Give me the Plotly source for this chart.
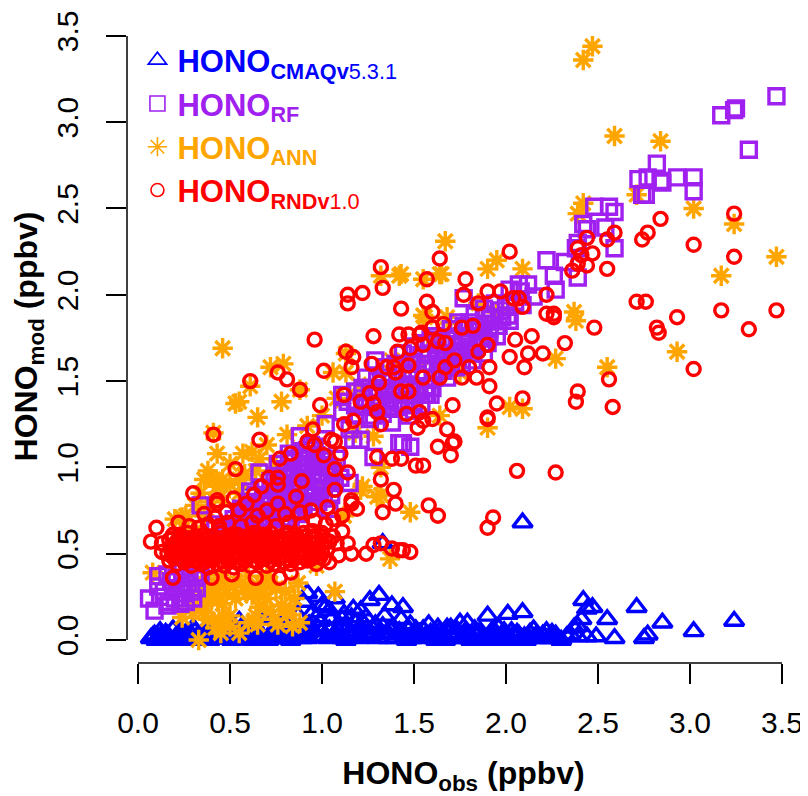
import plotly.graph_objects as go

CMAQ = [(0.07,0.01),(0.09,0.03),(0.10,0.00),(0.12,0.05),(0.14,0.01),(0.16,0.03),(0.18,0.00),(0.19,0.06),(0.21,0.02),(0.24,0.01),
(0.26,0.04),(0.28,0.00),(0.30,0.07),(0.32,0.02),(0.35,0.01),(0.37,0.05),(0.39,0.00),(0.41,0.03),(0.44,0.01),(0.46,0.08),
(0.48,0.02),(0.51,0.00),(0.53,0.04),(0.55,0.11),(0.57,0.01),(0.60,0.03),(0.62,0.00),(0.64,0.06),(0.67,0.02),(0.69,0.12),
(0.71,0.00),(0.74,0.03),(0.76,0.01),(0.78,0.07),(0.81,0.02),(0.83,0.00),(0.85,0.05),(0.87,0.14),(0.89,0.01),(0.90,0.22),
(0.92,0.27),(0.93,0.09),(0.95,0.16),(0.96,0.02),(0.98,0.25),(0.99,0.11),(1.00,0.05),(1.02,0.19),(1.03,0.01),(1.05,0.12),
(1.07,0.24),(1.08,0.03),(1.10,0.08),(1.12,0.15),(1.13,0.00),(1.15,0.04),(1.17,0.18),(1.18,0.10),(1.20,0.01),(1.22,0.06),
(1.24,0.13),(1.26,0.23),(1.27,0.02),(1.29,0.09),(1.31,0.26),(1.32,0.04),(1.33,0.56),(1.34,0.14),(1.36,0.01),(1.38,0.20),
(1.39,0.07),(1.41,0.03),(1.43,0.12),(1.44,0.19),(1.46,0.00),(1.48,0.09),(1.50,0.04),(1.52,0.02),(1.55,0.06),(1.57,0.01),
(1.58,0.09),(1.60,0.03),(1.62,0.00),(1.64,0.05),(1.66,0.02),(1.68,0.07),(1.70,0.07),(1.72,0.01),(1.74,0.04),(1.75,0.10),
(1.77,0.02),(1.79,0.10),(1.81,0.00),(1.83,0.06),(1.85,0.03),(1.87,0.01),(1.90,0.14),(1.92,0.04),(1.94,0.00),(1.96,0.07),
(1.98,0.02),(2.01,0.15),(2.03,0.05),(2.05,0.01),(2.07,0.03),(2.09,0.16),(2.09,0.68),(2.11,0.00),(2.12,0.02),(2.15,0.06),
(2.17,0.01),(2.20,0.03),(2.22,0.05),(2.24,0.01),(2.27,0.03),(2.30,0.00),(2.35,0.03),(2.37,0.07),(2.39,0.02),(2.39,0.08),
(2.41,0.12),(2.42,0.23),(2.44,0.18),(2.44,0.02),(2.47,0.19),(2.49,0.02),(2.55,0.12),(2.59,0.01),(2.71,0.19),(2.75,0.01),
(2.77,0.03),(2.85,0.10),(3.02,0.05),(3.24,0.11),(0.60,0.90),
(0.08,0.02),(0.11,0.01),(0.15,0.04),(0.20,0.01),(0.23,0.05),(0.27,0.02),(0.31,0.05),(0.34,0.03),(0.38,0.08),(0.42,0.06),
(0.45,0.03),(0.49,0.06),(0.52,0.02),(0.56,0.07),(0.59,0.05),(0.63,0.09),(0.66,0.04),(0.70,0.07),(0.73,0.05),(0.77,0.09),
(0.80,0.05),(0.84,0.09),(0.88,0.06),(0.91,0.04),(0.94,0.06),(0.97,0.08),(1.01,0.02),(1.04,0.06),(1.06,0.02),(1.09,0.05),
(1.11,0.01),(1.14,0.07),(1.16,0.02),(1.19,0.05),(1.21,0.02),(1.23,0.09),(1.25,0.04),(1.28,0.06),(1.30,0.01),(1.33,0.08),
(1.35,0.04),(1.37,0.06),(1.40,0.01),(1.42,0.05),(1.45,0.03),(1.47,0.06),(1.49,0.01),(1.51,0.06),(1.53,0.04),(1.56,0.02),
(1.59,0.04),(1.61,0.01),(1.63,0.07),(1.65,0.03),(1.67,0.00),(1.69,0.04),(1.71,0.03),(1.73,0.06),(1.76,0.01),(1.78,0.05),
(1.80,0.03),(1.82,0.01),(1.84,0.02),(1.86,0.05),(1.88,0.00),(1.91,0.02),(1.93,0.06),(1.95,0.02),(1.97,0.01),(1.99,0.05),
(2.02,0.00),(2.04,0.03),(2.06,0.04),(2.08,0.01),(2.10,0.02),(2.13,0.04),(2.16,0.02),(2.19,0.01),(2.21,0.02),(2.25,0.04),
(2.28,0.01),(2.33,0.02),(0.13,0.03),(0.17,0.01),(0.22,0.03),(0.25,0.02),(0.29,0.03),(0.33,0.00),(0.36,0.03),(0.40,0.01),
(0.43,0.04),(0.47,0.01),(0.50,0.03),(0.54,0.01),(0.58,0.03),(0.61,0.01),(0.65,0.02),(0.68,0.00),(0.72,0.02),(0.75,0.01),
(0.79,0.03),(0.82,0.01),(0.86,0.02),(0.92,0.01),(0.97,0.13),(1.00,0.20),(1.04,0.17),(1.11,0.12),(1.16,0.13),(1.21,0.17)]

ANN = [(2.47,3.44),(2.42,3.36),(2.59,2.92),(2.84,2.89),(2.42,2.53),(2.39,2.47),(2.71,2.58),(3.02,2.50),(3.24,2.41),(3.47,2.22),
(3.17,2.11),(1.67,2.31),(1.64,2.12),(1.43,2.12),(1.55,2.09),(1.95,2.20),(1.90,2.15),(2.09,2.15),(2.37,1.90),(1.56,1.87),
(1.68,1.87),(2.93,1.67),(2.55,1.58),(2.27,1.63),(2.38,1.85),(2.02,1.35),(2.09,1.34),(1.90,1.23),(1.64,1.30),(1.48,0.74),
(0.46,1.69),(0.72,1.58),(0.79,1.60),(0.61,1.47),(0.53,1.37),(0.55,1.38),(0.78,1.38),(0.88,1.45),(0.65,1.29),(0.41,1.20),
(0.81,1.19),(0.43,1.08),(0.57,1.08),(0.62,1.09),(0.66,1.05),(0.46,0.93),(0.36,0.93),(1.32,2.11),(1.42,2.11),(1.65,2.12),
(1.55,1.88),(1.13,1.66),(1.06,1.55),(1.13,1.55),(1.32,1.00),(1.22,0.89),(1.32,0.84),(0.33,0.00),(0.45,0.04),(0.24,0.13),
(0.55,0.04),(0.65,0.09),(0.74,0.12),(0.84,0.08),(0.88,0.10),(0.78,0.20),(0.66,0.19),(0.43,0.27),(0.65,0.31),(0.87,0.33),
(1.07,0.28),(0.08,0.39),(0.97,0.43),(0.24,0.71),(0.43,0.89),(1.21,0.87),(1.30,0.83),(1.37,0.47),(0.38,0.12),(0.36,0.20),
(0.46,0.21),(0.50,0.14),(0.53,0.24),(0.60,0.10),(0.62,0.26),(0.70,0.24),(0.72,0.17),(0.76,0.09),
(0.81,0.15),(0.39,0.30),(0.33,0.22),(0.30,0.16),(0.47,0.33),(0.56,0.33),(0.75,0.30),(0.50,0.08),(0.42,0.07),(0.30,0.62),
(0.36,0.72),(0.50,1.02),(0.58,0.96),(0.70,1.13),(0.75,1.00),(0.92,1.24),(1.00,1.30),(1.08,1.40),(1.20,1.48),(1.28,1.35),
(1.18,1.20),(1.28,1.18),(1.38,1.62),(1.52,1.60),(1.62,1.72),(1.75,1.55),(1.85,1.95),(1.95,1.90),(1.12,0.72),(0.98,0.88),
(0.35,0.16),(0.40,0.23),(0.44,0.12),(0.48,0.27),(0.61,0.30),(0.64,0.14),(0.68,0.27),
(0.83,0.18),(0.37,0.25),(0.42,0.33),(0.45,0.10),(0.52,0.31),(0.59,0.27),(0.67,0.33),
(0.72,0.33),(0.80,0.28),(0.85,0.24),(0.34,0.28),
(0.28,0.25),(0.31,0.33),(0.37,0.36),(0.44,0.38),(0.60,0.37),(0.70,0.37),(0.26,0.72),(0.31,0.78),(0.34,0.85),(0.39,0.80),
(0.45,0.83),(0.38,0.98),(0.41,0.93),(0.50,0.90),(0.55,0.85),(0.28,0.55),(0.23,0.62),(0.20,0.70),(0.55,0.93),(0.64,0.98)]

RF = [(3.47,3.15),(3.17,3.04),(3.24,3.07),(3.25,3.08),(3.32,2.84),(2.82,2.76),(2.72,2.67),(2.77,2.68),(2.84,2.66),(2.85,2.65),
(2.93,2.68),(3.02,2.68),(3.02,2.60),(2.74,2.58),(2.76,2.58),(2.48,2.51),(2.56,2.51),(2.59,2.48),(2.42,2.41),(2.44,2.38),
(2.54,2.39),(2.59,2.27),(2.38,2.27),(2.39,2.30),(2.22,2.20),(2.32,2.19),(2.26,2.11),(2.39,2.10),(2.27,2.03),(2.07,2.06),
(2.12,2.06),(2.02,2.03),(2.08,2.02),(2.15,1.99),(2.09,1.94),(1.77,1.98),(1.97,1.91),(2.01,1.88),(1.89,1.88),(1.74,1.84),
(2.02,1.85),(1.91,1.76),(1.87,1.72),(1.48,1.12),(1.44,1.14),(1.57,1.42),(1.43,1.37),(1.29,1.62),(1.24,1.52),(1.11,1.42),
(1.02,1.25),(0.88,1.18),(1.17,1.16),(1.42,1.14),(1.28,1.06),(1.56,1.42),(1.41,1.35),(1.11,1.32),(1.15,1.22),(1.21,1.16),
(0.66,0.97),(0.61,0.86),(0.34,0.78),(0.42,0.67),(0.11,0.37),(0.06,0.24),(0.09,0.17),(0.11,0.31),(0.12,0.25),(0.23,0.21),
(1.15,0.91),(0.17,0.22),(0.19,0.30),(0.21,0.36),(0.25,0.27),(0.27,0.33),(0.30,0.24),(0.32,0.30),(0.34,0.38),(0.16,0.38),
(0.14,0.28),(0.16,0.20),(0.20,0.24),(0.23,0.30),(0.26,0.22),(0.28,0.38),(0.31,0.36),(0.24,0.40),(0.18,0.34),(0.29,0.28),
(0.37,0.44),(0.40,0.50),(0.44,0.58),(0.48,0.64),(0.52,0.70),(0.56,0.76),(0.60,0.80),(0.64,0.84),(0.68,0.88),(0.72,0.92),
(0.76,0.95),(0.80,0.99),(0.84,1.03),(0.88,1.06),(0.92,1.10),(0.96,1.04),(1.00,1.10),(1.04,1.00),(1.08,1.05),(1.10,0.94),
(0.50,0.60),(0.55,0.66),(0.60,0.68),(0.65,0.74),(0.70,0.78),(0.75,0.82),(0.80,0.86),(0.85,0.90),(0.90,0.94),(0.95,0.97),
(1.00,0.92),(1.05,0.88),(0.62,0.62),(0.68,0.68),(0.74,0.72),(0.80,0.76),(0.86,0.80),(0.92,0.84),(0.98,0.80),(1.04,0.76),
(0.72,0.84),(0.78,0.90),(0.84,0.96),(0.90,1.00),(0.96,1.12),(0.76,1.02),(0.82,1.08),
(0.46,0.61),(0.53,0.63),(0.58,0.61),(0.66,0.60),(0.47,0.66),(0.51,0.65),(0.57,0.69),(0.63,0.67),(0.71,0.66),(0.75,0.64),
(0.55,0.71),(0.61,0.73),(0.67,0.71),(0.72,0.70),(0.78,0.70),(0.83,0.71),(0.58,0.75),(0.63,0.77),(0.69,0.75),(0.78,0.74),
(0.84,0.75),(0.88,0.73),(0.64,0.79),(0.71,0.80),(0.77,0.78),(0.83,0.79),(0.90,0.78),(0.94,0.77),(0.69,0.83),(0.76,0.86),
(0.82,0.83),(0.88,0.85),(0.95,0.83),(1.01,0.82),(0.74,0.88),(0.80,0.91),(0.87,0.89),(0.93,0.89),(0.99,0.87),(1.05,0.84),
(0.79,0.94),(0.85,0.94),(0.91,0.97),(0.97,0.93),(1.03,0.95),(1.07,0.91),(0.81,0.98),(0.87,1.00),(0.93,1.02),(0.99,1.00),
(1.06,0.98),(0.85,1.05),(0.91,1.06),(0.97,1.07),(1.02,1.04),(0.94,1.13),
(1.14,1.38),(1.18,1.44),(1.22,1.40),(1.26,1.46),(1.30,1.50),(1.34,1.44),(1.38,1.50),(1.30,1.36),(1.36,1.34),(1.26,1.28),
(1.20,1.30),(1.34,1.58),(1.40,1.60),(1.44,1.54),(1.48,1.48),(1.52,1.54),(1.56,1.60),(1.46,1.42),(1.50,1.38),(1.38,1.26),
(1.44,1.66),(1.50,1.70),(1.56,1.72),(1.62,1.68),(1.68,1.74),(1.74,1.70),(1.80,1.76),(1.86,1.82),(1.92,1.86),(1.96,1.82),
(1.60,1.60),(1.66,1.62),(1.72,1.64),(1.78,1.68),(1.84,1.70),(1.90,1.72),(1.62,1.76),(1.70,1.80),(1.80,1.84),(1.56,1.52),
(1.64,1.56),(1.70,1.58),(1.76,1.60),(1.82,1.62),(1.47,1.30),(1.54,1.36),(1.60,1.46),
(1.28,1.30),(1.33,1.31),(1.31,1.41),(1.35,1.39),(1.40,1.42),(1.43,1.47),(1.36,1.46),(1.33,1.52),(1.41,1.54),(1.47,1.55),
(1.51,1.47),(1.45,1.36),(1.39,1.34),(1.53,1.44),(1.57,1.47),(1.61,1.52),(1.66,1.56),(1.49,1.60),(1.54,1.65),(1.58,1.66),
(1.63,1.62),(1.68,1.66),(1.73,1.58),(1.59,1.74),(1.65,1.72),(1.71,1.74),(1.76,1.76),(1.79,1.72),(1.75,1.66),(1.81,1.66),
(1.86,1.75),(1.91,1.80),(1.84,1.79),(1.95,1.76),(1.88,1.66),(1.77,1.82),(1.83,1.88),(1.88,1.92),(1.94,1.95),(2.00,1.93),
(2.05,1.96),(1.98,1.87),(1.43,1.60),(1.18,1.36),(1.22,1.46),(1.28,1.44),(1.24,1.35),(1.68,1.52),(1.59,1.42),(1.50,1.33)]

RND = [(3.24,2.47),(3.24,2.22),(3.02,2.29),(2.84,2.44),(2.77,2.36),(2.74,2.32),(2.59,2.36),(2.55,2.32),(2.44,2.33),(2.55,2.15),
(2.47,2.24),(2.39,2.27),(2.41,2.23),(2.44,2.17),(2.39,2.18),(2.36,2.14),(2.02,2.25),(1.64,2.21),(1.57,2.09),(1.78,2.09),
(1.77,2.00),(1.90,2.02),(1.97,2.02),(1.85,1.95),(2.04,1.98),(2.07,1.98),(2.09,1.93),(2.22,2.00),(2.22,1.89),(2.26,1.89),
(1.57,1.96),(1.60,1.90),(2.71,1.96),(2.76,1.96),(3.17,1.91),(3.47,1.91),(2.93,1.87),(1.43,1.92),(3.32,1.80),(2.82,1.81),
(2.83,1.78),(2.48,1.81),(2.26,1.87),(3.02,1.57),(2.32,1.72),(2.14,1.76),(2.05,1.74),(2.20,1.66),(2.12,1.66),(2.02,1.64),
(2.10,1.58),(1.90,1.71),(1.85,1.67),(1.91,1.58),(1.80,1.58),(1.84,1.52),(1.76,1.52),(1.91,1.47),(1.95,1.37),(2.09,1.40),
(2.39,1.44),(2.38,1.38),(2.56,1.51),(2.58,1.35),(1.90,1.29),(1.90,1.28),(1.71,1.36),(1.53,1.32),(1.46,1.31),(1.60,1.28),
(1.55,1.27),(1.52,1.23),(1.68,1.22),(1.72,1.15),(1.71,1.14),(1.63,1.12),(1.70,1.07),(1.55,1.01),(1.51,1.01),(1.43,1.05),
(2.06,0.98),(2.27,0.97),(1.58,0.78),(1.63,0.72),(1.93,0.71),(1.90,0.65),(1.48,0.51),(1.44,0.52),(1.67,1.72),(1.63,1.73),
(1.60,1.81),(1.66,1.83),(1.76,1.81),(1.82,1.82),(1.72,1.62),(1.67,1.58),(1.64,1.52),(1.55,1.52),(1.47,1.59),(1.47,1.44),
(1.43,1.44),(1.55,1.71),(1.48,1.69),(1.47,1.77),(1.53,1.77),(1.32,2.16),(1.33,2.04),(1.22,2.01),(1.14,2.00),(1.14,1.95),
(0.96,1.74),(1.28,1.76),(1.42,1.77),(1.54,1.78),(1.41,1.67),(1.13,1.67),(1.17,1.64),(1.16,1.58),(1.27,1.60),(1.01,1.56),
(0.76,1.55),(0.81,1.51),(0.61,1.50),(0.88,1.45),(0.99,1.36),(1.35,1.58),(1.39,1.58),(1.40,1.55),(1.31,1.49),(1.12,1.42),
(1.21,1.38),(1.26,1.43),(1.28,1.37),(1.30,1.32),(1.32,1.25),(1.17,1.27),(1.12,1.25),(0.95,1.22),(0.41,1.19),(0.66,1.16),
(0.53,0.99),(0.92,1.15),(0.96,1.13),(1.05,1.16),(1.07,1.15),(0.77,1.05),(0.83,1.08),(1.01,1.07),(1.10,1.08),(1.30,1.06),
(1.38,1.05),(1.07,0.99),(1.14,0.97),(0.67,0.89),(0.71,0.94),(0.76,0.94),(0.76,0.90),(0.89,0.92),(1.07,0.87),(1.32,0.93),
(1.39,0.87),(1.16,0.81),(0.86,0.83),(0.63,0.84),(0.52,0.82),(0.43,0.81),(0.30,0.85),(0.10,0.65),(0.07,0.57),(0.13,0.56),
(0.13,0.51),(0.22,0.68),(0.19,0.61),(0.19,0.36),(0.43,0.79),(0.70,0.75),(0.59,0.79),(0.55,0.75),(0.48,0.74),(0.76,0.79),
(0.88,0.74),(1.03,0.77),(1.16,0.79),(1.19,0.76),(1.11,0.63),(1.14,0.56),(1.16,0.50),(1.09,0.49),(1.04,0.45),(1.24,0.50),
(1.28,0.55),(1.32,0.56),(1.38,0.53),(1.42,0.52),(1.33,0.74),(1.40,0.79),(0.77,0.36),(0.83,0.39),(0.64,0.36),(0.40,0.36),
(0.51,0.38),
(0.17,0.46),(0.21,0.44),(0.25,0.45),(0.29,0.43),(0.34,0.44),(0.38,0.42),(0.43,0.44),(0.47,0.43),(0.52,0.42),(0.56,0.44),
(0.61,0.43),(0.65,0.45),(0.70,0.43),(0.74,0.44),(0.79,0.45),(0.83,0.44),(0.88,0.45),(0.92,0.46),(0.97,0.44),(1.01,0.47),
(0.16,0.50),(0.20,0.49),(0.24,0.50),(0.28,0.48),(0.33,0.49),(0.37,0.47),(0.42,0.48),(0.46,0.49),(0.51,0.47),(0.55,0.49),
(0.60,0.48),(0.64,0.49),(0.69,0.47),(0.73,0.49),(0.78,0.48),(0.82,0.50),(0.87,0.49),(0.91,0.50),(0.96,0.49),(1.00,0.51),
(0.18,0.54),(0.22,0.53),(0.26,0.54),(0.31,0.52),(0.35,0.53),(0.40,0.52),(0.44,0.53),(0.49,0.52),(0.53,0.54),(0.58,0.52),
(0.62,0.53),(0.67,0.52),(0.71,0.54),(0.76,0.53),(0.80,0.54),(0.85,0.53),(0.89,0.55),(0.94,0.53),(0.98,0.54),(1.03,0.53),
(0.17,0.58),(0.21,0.57),(0.25,0.58),(0.30,0.56),(0.34,0.57),(0.39,0.56),(0.43,0.58),(0.48,0.56),(0.52,0.57),(0.57,0.56),
(0.61,0.58),(0.66,0.57),(0.70,0.58),(0.75,0.57),(0.79,0.58),(0.84,0.57),(0.88,0.58),(0.93,0.57),(0.97,0.59),(1.02,0.58),
(0.23,0.61),(0.27,0.62),(0.32,0.60),(0.36,0.61),(0.41,0.60),(0.45,0.62),(0.50,0.60),(0.54,0.61),(0.59,0.60),(0.63,0.62),
(0.68,0.61),(0.72,0.62),(0.77,0.60),(0.81,0.62),(0.86,0.61),(0.90,0.62),(0.95,0.63),(1.00,0.62),(1.06,0.60),(1.08,0.56),
(0.28,0.66),(0.33,0.65),(0.38,0.67),(0.44,0.66),(0.49,0.68),(0.56,0.66),(0.62,0.68),(0.69,0.67),(0.75,0.66),(0.82,0.68),
(0.89,0.67),(0.96,0.69),(1.02,0.67),(1.06,0.70),(1.11,0.72),(0.36,0.73),(0.42,0.71),(0.65,0.72),(0.80,0.73),(0.94,0.75),
(0.19,0.48),(0.23,0.47),(0.27,0.46),(0.31,0.46),(0.36,0.45),(0.40,0.47),(0.45,0.46),(0.49,0.45),(0.54,0.46),(0.58,0.46),
(0.63,0.46),(0.67,0.47),(0.72,0.46),(0.76,0.47),(0.81,0.47),(0.85,0.47),(0.90,0.48),(0.94,0.47),(0.99,0.48),
(0.18,0.52),(0.22,0.51),(0.26,0.52),(0.30,0.50),(0.35,0.51),(0.39,0.50),(0.44,0.51),(0.48,0.50),(0.53,0.51),(0.57,0.50),
(0.62,0.51),(0.66,0.50),(0.71,0.51),(0.75,0.50),(0.80,0.51),(0.84,0.51),(0.89,0.52),(0.93,0.51),(0.98,0.52),
(0.20,0.55),(0.24,0.56),(0.28,0.55),(0.33,0.54),(0.37,0.55),(0.42,0.55),(0.46,0.54),(0.51,0.55),(0.55,0.54),(0.60,0.55),
(0.64,0.55),(0.69,0.55),(0.73,0.55),(0.78,0.56),(0.82,0.55),(0.87,0.56),(0.91,0.56),(0.96,0.56),(1.00,0.56),
(0.19,0.59),(0.24,0.60),(0.28,0.59),(0.32,0.58),(0.37,0.58),(0.41,0.57),(0.46,0.59),(0.50,0.58),(0.55,0.58),(0.59,0.58),
(0.64,0.59),(0.68,0.59),(0.73,0.59),(0.77,0.58),(0.82,0.59),(0.86,0.59),(0.91,0.60),(0.95,0.60),(1.00,0.60),(1.04,0.57)]

TICKS = [0.0, 0.5, 1.0, 1.5, 2.0, 2.5, 3.0, 3.5]
TICK_LABELS = ["0.0", "0.5", "1.0", "1.5", "2.0", "2.5", "3.0", "3.5"]

BLUE, PURPLE, ORANGE, RED = "#0000FF", "#A020F0", "#FFA500", "#FF0000"
FONT = "Liberation Sans"


def coloured(color, bold_sub, plain_sub=""):
    tail = f"<sub>{plain_sub}</sub>" if plain_sub else ""
    return f'<span style="color:{color}"><b>HONO<sub>{bold_sub}</sub></b>{tail}</span>'


fig = go.Figure()


def cloud(points, symbol, size, color, width=3.4):
    fig.add_trace(go.Scatter(
        x=[p[0] for p in points], y=[p[1] for p in points], mode="markers",
        cliponaxis=False, showlegend=False, hoverinfo="skip",
        marker=dict(symbol=symbol, size=size, color=color, line=dict(color=color, width=width)),
    ))


cloud(CMAQ, "triangle-up-open", 17, BLUE)
cloud(ANN, "asterisk-open", 17, ORANGE)
cloud(RF, "square-open", 15, PURPLE)
cloud(RND, "circle-open", 13, RED)

for name, symbol, size, color in [(coloured(BLUE, "CMAQv", "5.3.1"), "triangle-up-open", 16, BLUE),
                                  (coloured(PURPLE, "RF"), "square-open", 15, PURPLE),
                                  (coloured(ORANGE, "ANN"), "asterisk-open", 16, ORANGE),
                                  (coloured(RED, "RNDv", "1.0"), "circle-open", 13, RED)]:
    fig.add_trace(go.Scatter(
        x=[None], y=[None], mode="markers", name=name, hoverinfo="skip",
        marker=dict(symbol=symbol, size=size, color=color, line=dict(color=color, width=1.6)),
    ))

axis_common = dict(
    tickmode="array", tickvals=TICKS, ticktext=TICK_LABELS, ticks="outside", ticklen=20,
    tickwidth=1.5, tickcolor="black", showgrid=False, zeroline=False, showline=False,
    tickfont=dict(family=FONT, size=30, color="black"),
)

fig.update_layout(
    width=800, height=788, margin=dict(l=119, r=8, t=2, b=133, autoexpand=False),
    paper_bgcolor="white", plot_bgcolor="white", font=dict(family=FONT, color="black"),
    xaxis=dict(range=[-0.0598, 3.598], ticklabelstandoff=13,
               title=dict(text="<b>HONO<sub>obs</sub> (ppbv)</b>", font=dict(size=32, family=FONT), standoff=25),
               **axis_common),
    yaxis=dict(range=[-0.1333, 3.65], tickangle=-90, ticklabelstandoff=16,
               title=dict(text="<b>HONO<sub>mod</sub> (ppbv)</b>", font=dict(size=32, family=FONT), standoff=19),
               **axis_common),
    legend=dict(x=0.0155, y=0.964, xanchor="left", yanchor="top", bgcolor="rgba(0,0,0,0)",
                font=dict(family=FONT, size=31), itemclick=False, itemdoubleclick=False),
    shapes=[
        dict(type="line", xref="x", yref="paper", x0=TICKS[0], x1=TICKS[-1], y0=0, y1=0,
             line=dict(color="black", width=1.5)),
        dict(type="line", xref="paper", yref="y", x0=0, x1=0, y0=TICKS[0], y1=TICKS[-1],
             line=dict(color="black", width=1.5)),
    ],
)

fig.write_html("out.html")
